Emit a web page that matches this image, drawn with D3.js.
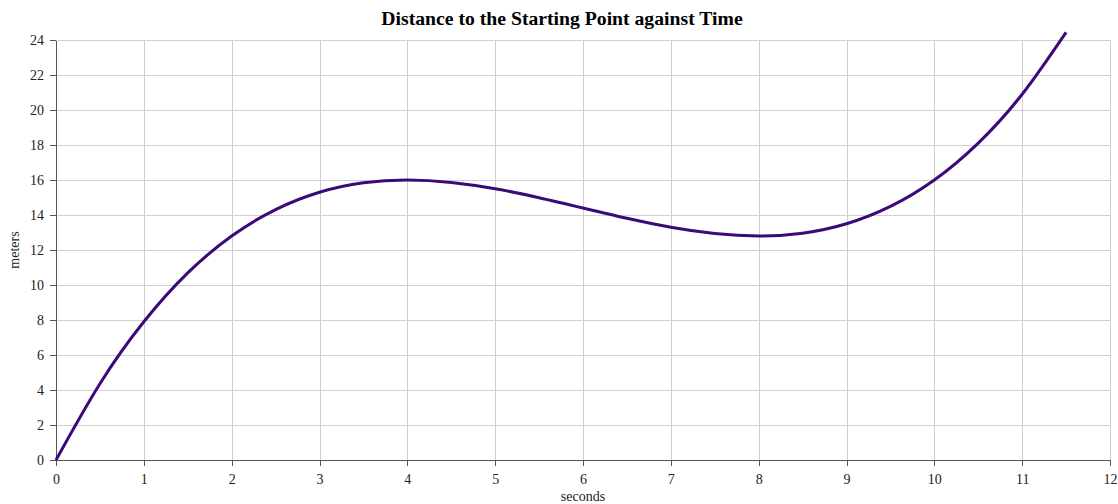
<!DOCTYPE html>
<html>
<head>
<meta charset="utf-8">
<title>Distance to the Starting Point against Time</title>
<script src="https://d3js.org/d3.v7.min.js"></script>
<style>
  html, body { margin: 0; padding: 0; background: #fff; }
  svg { display: block; font-family: "Liberation Serif", "Times New Roman", serif; }
  .grid line { stroke: #cfcfcf; stroke-width: 1; shape-rendering: crispEdges; }
  .grid path { display: none; }
  .axis path, .axis line { stroke: #555; shape-rendering: crispEdges; }
  .axis text { fill: #222; font-size: 14px; font-family: "Liberation Serif", "Times New Roman", serif; }
</style>
</head>
<body>
<svg id="chart" width="1118" height="504"></svg>
<script>
// values (seconds / meters)
var seconds = [0, 0.5, 1, 1.5, 2, 2.5, 3, 3.5, 4, 4.5, 5, 5.5, 6, 6.5, 7, 7.5, 8, 8.5, 9, 9.5, 10, 10.5, 11, 11.5];
var meters  = [0, 4.36, 7.9, 10.69, 12.8, 14.31, 15.3, 15.84, 16, 15.86, 15.5, 14.99, 14.4, 13.81, 13.3, 12.94, 12.8, 12.96, 13.5, 14.49, 16, 18.11, 20.9, 24.44];
var xTicks = [0, 1, 2, 3, 4, 5, 6, 7, 8, 9, 10, 11, 12];
var yTicks = [0, 2, 4, 6, 8, 10, 12, 14, 16, 18, 20, 22, 24];

var svg = d3.select("#chart");
var margin = {top: 40, right: 8, bottom: 44, left: 56};
var W = 1118, H = 504;
var w = W - margin.left - margin.right,
    h = H - margin.top - margin.bottom;

var x = d3.scaleLinear().domain([0, 12]).range([0, w]);
var y = d3.scaleLinear().domain([0, 24]).range([h, 0]);

var g = svg.append("g").attr("transform", "translate(" + margin.left + "," + margin.top + ")");

// grid
g.append("g").attr("class", "grid")
  .attr("transform", "translate(0," + h + ")")
  .call(d3.axisBottom(x).tickValues(xTicks).tickSize(-h).tickFormat(""));
g.append("g").attr("class", "grid")
  .call(d3.axisLeft(y).tickValues(yTicks).tickSize(-w).tickFormat(""));

// axes
g.append("g").attr("class", "axis")
  .attr("transform", "translate(0," + h + ")")
  .call(d3.axisBottom(x).tickValues(xTicks).tickSize(6).tickSizeOuter(0).tickPadding(8));
g.append("g").attr("class", "axis")
  .call(d3.axisLeft(y).tickValues(yTicks).tickSize(6).tickSizeOuter(0).tickPadding(6));

// curve
var pts = seconds.map(function(t, i) { return [t, meters[i]]; });
g.append("path")
  .datum(pts)
  .attr("fill", "none")
  .attr("stroke", "#3b0a78")
  .attr("stroke-width", 3)
  .attr("d", d3.line().x(function(d) { return x(d[0]); }).y(function(d) { return y(d[1]); }).curve(d3.curveNatural));

// labels
svg.append("text")
  .attr("x", 562).attr("y", 25)
  .attr("text-anchor", "middle")
  .style("font-size", "19.7px").style("font-weight", "bold").style("fill", "#000")
  .text("Distance to the Starting Point against Time");

svg.append("text")
  .attr("x", margin.left + w / 2).attr("y", 501)
  .attr("text-anchor", "middle")
  .style("font-size", "14px").style("fill", "#222")
  .text("seconds");

svg.append("text")
  .attr("transform", "translate(19," + (margin.top + h / 2) + ") rotate(-90)")
  .attr("text-anchor", "middle")
  .style("font-size", "14px").style("fill", "#222")
  .text("meters");
</script>
</body>
</html>
